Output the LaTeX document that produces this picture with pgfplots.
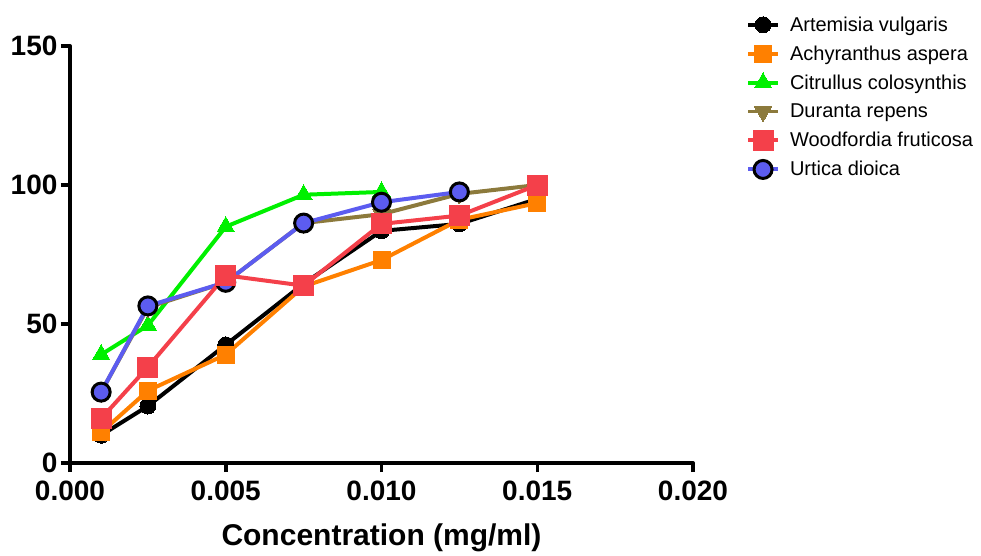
\documentclass[border=0pt]{standalone}
\usepackage{pgfplots}
\pgfplotsset{compat=1.18}
\usepackage{fontspec}
\setmainfont{Liberation Sans}
\definecolor{cblack}{HTML}{000000}
\definecolor{corange}{HTML}{FF8000}
\definecolor{cgreen}{HTML}{00F000}
\definecolor{colive}{HTML}{8C7A3C}
\definecolor{cred}{HTML}{F4404A}
\definecolor{cblue}{HTML}{5C5CF0}

\pgfplotsset{
  artemisia/.style={cblack, line width=4pt, mark=*, mark size=8pt, mark options={fill=cblack, draw=cblack, line width=0pt}},
  achyranthus/.style={corange, line width=4pt, mark=square*, mark size=8.5pt, mark options={fill=corange, draw=corange, line width=0pt}},
  citrullus/.style={cgreen, line width=4pt, mark=triangle*, mark size=10pt, mark options={fill=cgreen, draw=cgreen, line width=0pt}},
  duranta/.style={colive, line width=4pt, mark=triangle*, mark size=10pt, mark options={rotate=180, fill=colive, draw=colive, line width=0pt}},
  woodfordia/.style={cred, line width=4pt, mark=square*, mark size=10pt, mark options={fill=cred, draw=cred, line width=0pt, rounded corners=1.5pt}},
  urtica/.style={cblue, line width=4pt, mark=*, mark size=9pt, mark options={fill=cblue, draw=black, line width=3pt}},
}

\begin{document}
\begin{tikzpicture}
\useasboundingbox (0,0) rectangle (981pt,555pt);
\begin{axis}[
  at={(70pt,92pt)}, anchor=origin,
  scale only axis, width=623pt, height=417pt,
  xmin=0, xmax=0.02, ymin=0, ymax=150,
  axis x line*=bottom, axis y line*=left,
  axis line style={line width=4pt, line cap=round, -},
  xtick={0,0.005,0.01,0.015,0.02},
  xticklabels={0.000,0.005,0.010,0.015,0.020},
  scaled x ticks=false,
  ytick={0,50,100,150},
  tick align=outside, major tick length=9pt,
  tick style={line width=3.5pt, black},
  /pgf/number format/assume math mode=true,
  tick label style={font=\bfseries\fontsize{28}{30}\selectfont},
  xticklabel style={yshift=-5pt},
  xlabel={Concentration (mg/ml)},
  xlabel style={font=\bfseries\fontsize{30}{32}\selectfont, at={(0.5,-0.138)}, anchor=north},
  clip=false,
  legend style={draw=none, fill=none, at={(1.08,1.08)}, anchor=north west,
    font=\fontsize{20}{22}\selectfont, row sep=9pt,
    /tikz/every odd column/.append style={column sep=8pt}},
  legend cell align=left,
  legend image code/.code={\draw[mark repeat=2, mark phase=2] plot coordinates {(0pt,0pt) (15pt,0pt) (30pt,0pt)};},
]
% legend entries in the order of the reference
\addlegendimage{artemisia}
\addlegendentry{Artemisia vulgaris}
\addlegendimage{achyranthus}
\addlegendentry{Achyranthus aspera}
\addlegendimage{citrullus}
\addlegendentry{Citrullus colosynthis}
\addlegendimage{duranta, line width=3pt}
\addlegendentry{Duranta repens}
\addlegendimage{woodfordia}
\addlegendentry{Woodfordia fruticosa}
\addlegendimage{urtica}
\addlegendentry{Urtica dioica}

% series, bottom to top
\addplot[artemisia, forget plot] coordinates {
  (0.001,10) (0.0025,20.5) (0.005,42.5) (0.0075,64.5) (0.010,83.5) (0.0125,86) (0.015,95)};
\addplot[achyranthus, forget plot] coordinates {
  (0.001,11) (0.0025,26) (0.005,39) (0.0075,63.5) (0.010,73) (0.0125,87.5) (0.015,93.5)};
\addplot[citrullus, forget plot] coordinates {
  (0.001,39) (0.0025,49.5) (0.005,85) (0.0075,96.5) (0.010,97.5)};
\addplot[duranta, forget plot] coordinates {
  (0.001,25.5) (0.0025,56) (0.005,65) (0.0075,86.3) (0.010,89.5) (0.0125,96.8) (0.015,100)};
\addplot[urtica, forget plot] coordinates {
  (0.001,25.5) (0.0025,56.5) (0.005,65) (0.0075,86.3) (0.010,93.8) (0.0125,97.5)};
\addplot[woodfordia, forget plot] coordinates {
  (0.001,16) (0.0025,34.5) (0.005,67.5) (0.0075,63.8) (0.010,86) (0.0125,89) (0.015,100)};
\end{axis}
\end{tikzpicture}
\end{document}
